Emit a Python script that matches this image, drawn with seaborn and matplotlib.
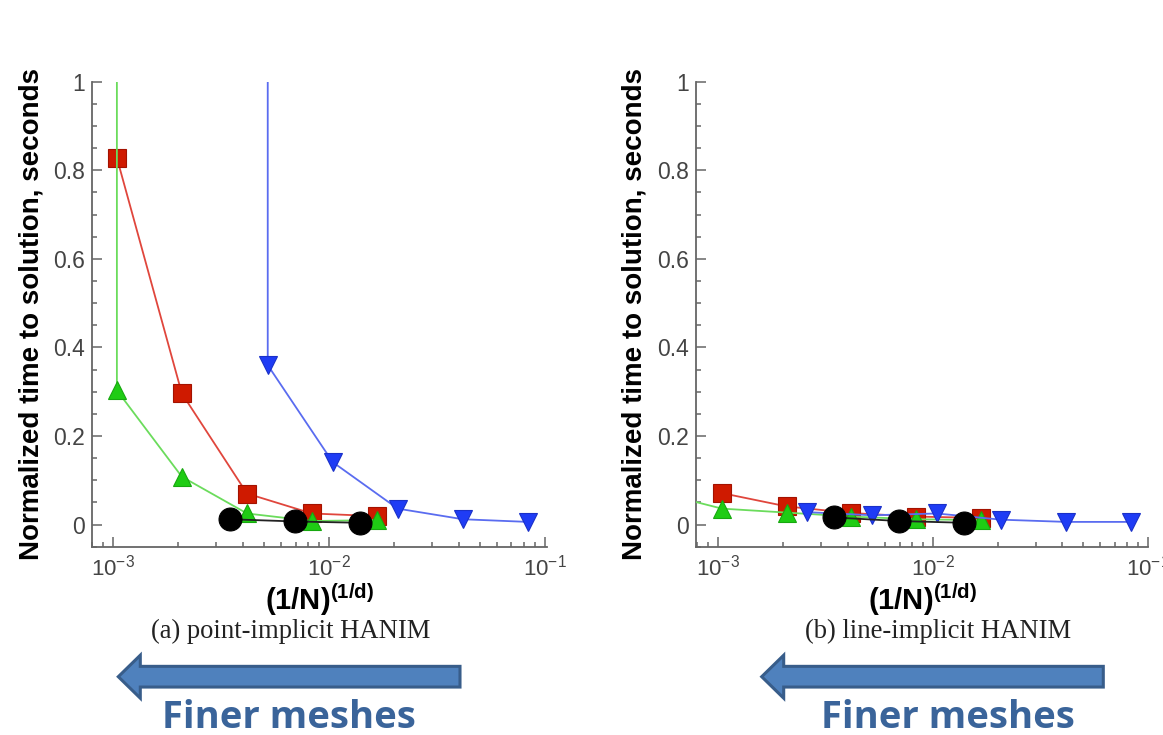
import matplotlib
matplotlib.use("Agg")
import matplotlib.pyplot as plt
import seaborn as sns
from matplotlib.patches import FancyArrow
from matplotlib.transforms import Affine2D
from matplotlib.ticker import LogLocator, MultipleLocator, NullFormatter, FuncFormatter

# ---------------- data ----------------
# (a) point-implicit HANIM
a_red_x = [1.04e-3, 2.08e-3, 4.17e-3, 8.33e-3, 1.67e-2]
a_red_y = [0.828, 0.296, 0.070, 0.025, 0.019]
a_green_x = [1.04e-3, 1.04e-3, 2.08e-3, 4.17e-3, 8.33e-3, 1.67e-2]
a_green_y = [1.6, 0.303, 0.108, 0.025, 0.008, 0.010]
a_blue_x = [5.2e-3, 5.2e-3, 1.04e-2, 2.08e-2, 4.17e-2, 8.33e-2]
a_blue_y = [1.6, 0.360, 0.141, 0.036, 0.012, 0.006]
a_black_x = [3.47e-3, 6.94e-3, 1.39e-2]
a_black_y = [0.012, 0.007, 0.004]

# (b) line-implicit HANIM
b_red_x = [1.04e-3, 2.08e-3, 4.17e-3, 8.33e-3, 1.67e-2]
b_red_y = [0.071, 0.041, 0.026, 0.018, 0.015]
b_green_x = [5.2e-4, 1.04e-3, 2.08e-3, 4.17e-3, 8.33e-3, 1.67e-2]
b_green_y = [0.073, 0.036, 0.027, 0.018, 0.012, 0.010]
b_blue_x = [2.6e-3, 5.2e-3, 1.04e-2, 2.08e-2, 4.17e-2, 8.33e-2]
b_blue_y = [0.028, 0.021, 0.025, 0.011, 0.006, 0.006]
b_black_x = [3.47e-3, 6.94e-3, 1.39e-2]
b_black_y = [0.016, 0.008, 0.004]

captions = ["(a) point-implicit HANIM", "(b) line-implicit HANIM"]
y_label = "Normalized time to solution, seconds"
x_label = r"$\mathbf{(1/N)}^{\mathbf{(1/d)}}$"
arrow_text = "Finer meshes"

# ---------------- style ----------------
sns.set_theme(style="ticks")
plt.rcParams.update({
    "mathtext.fontset": "custom",
    "mathtext.rm": "Liberation Sans",
    "mathtext.bf": "Liberation Sans:bold",
    "mathtext.default": "regular",
    "axes.unicode_minus": False,
})
plt.rcParams["font.family"] = ["Liberation Sans", "DejaVu Sans"]

W, H = 1163, 735
fig = plt.figure(figsize=(W / 100, H / 100), dpi=100)
fig.patch.set_facecolor("white")


def fx(px):
    return px / W


def fy(py):
    return 1 - py / H


series_style = {
    "red": dict(marker="s", markerfacecolor="#cf1a00", markeredgecolor="#a31200",
                color="#e0463c", markersize=12.5, zorder=3),
    "green": dict(marker="^", markerfacecolor="#1fcc14", markeredgecolor="#17a80f",
                  color="#6bdc5c", markersize=13, zorder=4),
    "blue": dict(marker="v", markerfacecolor="#1f3cf5", markeredgecolor="#1a30c8",
                 color="#5a6cf0", markersize=13, zorder=4),
    "black": dict(marker="o", markerfacecolor="#000000", markeredgecolor="#000000",
                  color="#222222", markersize=16.5, zorder=6),
}

panels = [
    dict(rect=[fx(92.3), fy(546.7), fx(546.7) - fx(92.3), fy(81.7) - fy(546.7)],
         xlim=(8.0e-4, 0.102),
         series=[("red", a_red_x, a_red_y), ("green", a_green_x, a_green_y),
                 ("blue", a_blue_x, a_blue_y), ("black", a_black_x, a_black_y)],
         caption_x=291),
    dict(rect=[fx(695.7), fy(546.7), fx(1148.3) - fx(695.7), fy(81.7) - fy(546.7)],
         xlim=(7.85e-4, 0.1005),
         series=[("red", b_red_x, b_red_y), ("green", b_green_x, b_green_y),
                 ("blue", b_blue_x, b_blue_y), ("black", b_black_x, b_black_y)],
         caption_x=938),
]

for i, p in enumerate(panels):
    ax = fig.add_axes(p["rect"])
    ax.set_facecolor("white")
    for name, xs, ys in p["series"]:
        st = series_style[name]
        sns.lineplot(x=xs, y=ys, ax=ax, sort=False, estimator=None,
                     linewidth=1.3, markeredgewidth=0.8, **st)
    ax.set_xscale("log")
    ax.set_xlim(*p["xlim"])
    ax.set_ylim(-0.05, 1.0)

    ax.xaxis.set_major_locator(LogLocator(base=10))
    ax.xaxis.set_minor_locator(LogLocator(base=10, subs=range(2, 10)))
    ax.xaxis.set_minor_formatter(NullFormatter())
    ax.yaxis.set_major_locator(MultipleLocator(0.2))
    ax.yaxis.set_minor_locator(MultipleLocator(0.05))
    ax.yaxis.set_major_formatter(FuncFormatter(lambda v, _: f"{v:g}"))

    sns.despine(ax=ax)
    for s in ("left", "bottom"):
        ax.spines[s].set_color("#666666")
        ax.spines[s].set_linewidth(1.3)
    ax.tick_params(which="both", direction="in", color="#666666", width=1.1,
                   labelcolor="#444444")
    ax.tick_params(which="major", length=7)
    ax.tick_params(which="minor", length=3.5)
    ax.tick_params(axis="y", which="major", labelsize=16.5, pad=5)
    ax.tick_params(axis="x", which="major", labelsize=16, pad=6)

    ax.set_ylabel(y_label, fontsize=20, fontweight="bold", color="black")
    ax.yaxis.set_label_coords(-0.106, 0.5)
    ax.set_xlabel(x_label, fontsize=21, color="black")
    ax.xaxis.set_label_coords(0.5, -0.074)

    fig.text(fx(p["caption_x"]), fy(638), captions[i], family="Liberation Serif",
             fontsize=19.2, color="#222222", ha="center", va="baseline")

# "Finer meshes" block arrows (pixel units, origin bottom-left)
px_trans = Affine2D().scale(1 / 100) + fig.dpi_scale_trans
for tip_x, tail_x, text_x in [(118.3, 460.0, 289.0), (761.7, 1103.3, 947.5)]:
    arr = FancyArrow(tail_x, H - 676.7, -(tail_x - tip_x), 0, width=20.7,
                     head_width=43, head_length=22, length_includes_head=True,
                     facecolor="#4f81bd", edgecolor="#385d8a", linewidth=2.2,
                     transform=px_trans)
    fig.add_artist(arr)
    fig.text(fx(text_x), fy(728.5), arrow_text, family="Open Sans", fontweight="bold",
             fontsize=27.5, color="#3a649a", ha="center", va="baseline")

fig.savefig("out.png", dpi=100, facecolor="white")
